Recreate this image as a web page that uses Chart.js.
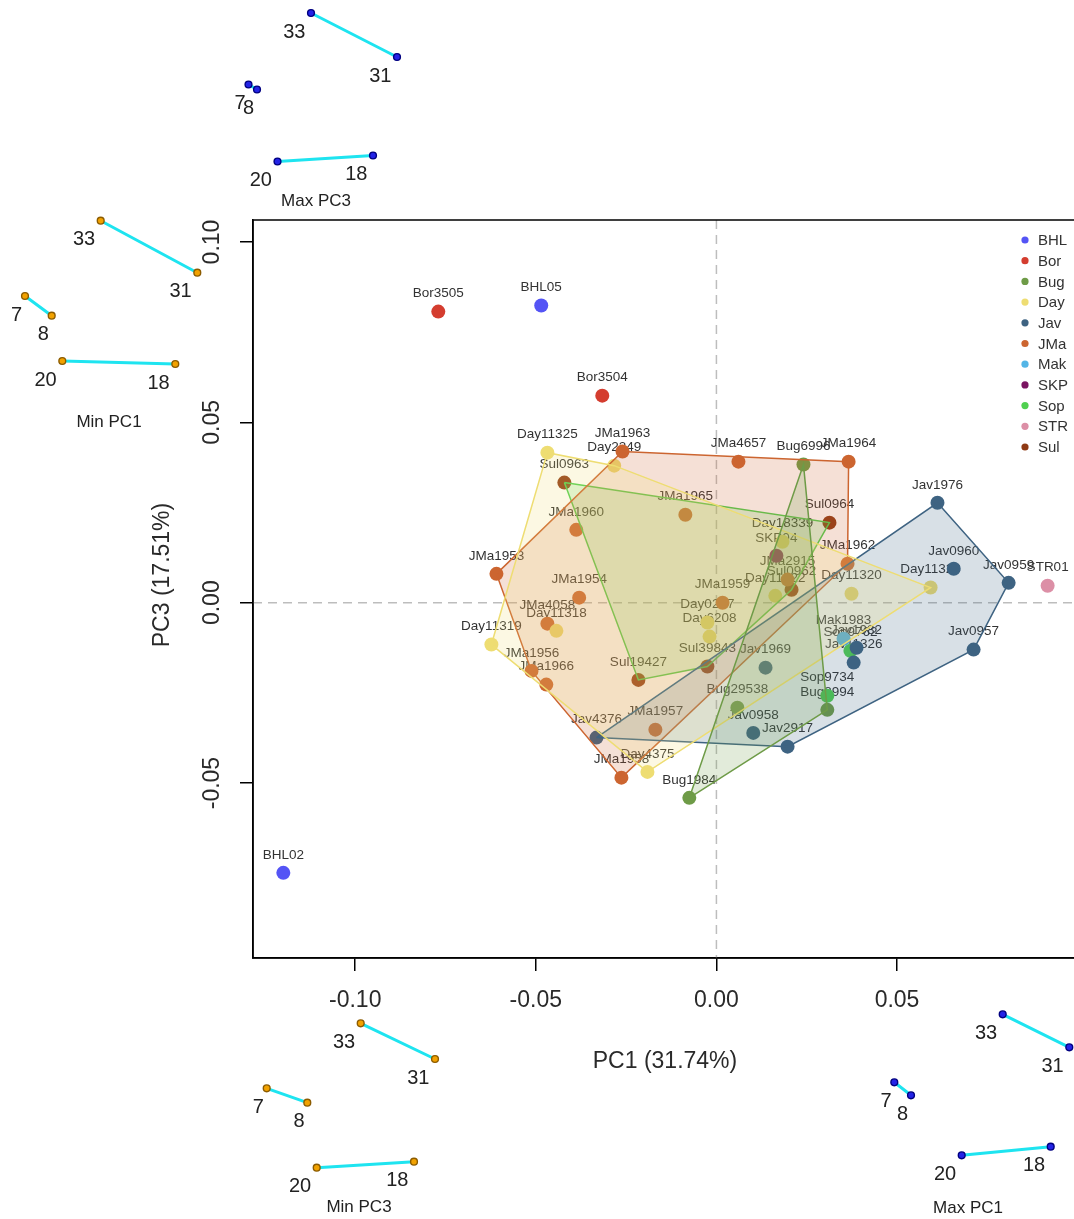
<!DOCTYPE html>
<html lang="en">
<head>
<meta charset="UTF-8">
<title>PCA PC1 vs PC3</title>
<script src="https://cdn.jsdelivr.net/npm/chart.js"></script>
<style>
  html, body { margin: 0; padding: 0; background: #fff; }
  #wrap { width: 1074px; height: 1219px; }
</style>
</head>
<body>
<div id="wrap"><canvas id="pca" width="1074" height="1219"></canvas></div>
<script>
// ---- data ----
const groups = ['BHL', 'Bor', 'Bug', 'Day', 'Jav', 'JMa', 'Mak', 'SKP', 'Sop', 'STR', 'Sul'];
const groupColors = ['#5454f5', '#d43d2f', '#6e9b47', '#eedd72', '#3e6382', '#cc6530',
                     '#53b5e6', '#7b1562', '#50d050', '#dc8fa6', '#8f3a14'];

const specimenNames = [
  'BHL05', 'BHL02',
  'Bor3505', 'Bor3504',
  'Bug6996', 'Bug29538', 'Bug8994', 'Bug1984',
  'Day11325', 'Day2349', 'Day18339', 'Day11322', 'Day11320', 'Day11323',
  'Day0207', 'Day6208', 'Day11318', 'Day11319', 'Day4375',
  'Jav1976', 'Jav0960', 'Jav0959', 'Jav0957', 'Jav1982', 'Jav11326',
  'Jav1969', 'Jav0958', 'Jav2917', 'Jav4376',
  'JMa1963', 'JMa4657', 'JMa1964', 'JMa1965', 'JMa1960', 'JMa1953', 'JMa1962', 'JMa2915',
  'JMa1954', 'JMa1959', 'JMa4058', 'JMa1956', 'JMa1966', 'JMa1957', 'JMa1958',
  'Mak1983',
  'SKP04',
  'Sop9762', 'Sop9734',
  'STR01',
  'Sul0963', 'Sul0964', 'Sul0962', 'Sul39843', 'Sul19427'
];
const specimenGroups = [
  'BHL', 'BHL',
  'Bor', 'Bor',
  'Bug', 'Bug', 'Bug', 'Bug',
  'Day', 'Day', 'Day', 'Day', 'Day', 'Day',
  'Day', 'Day', 'Day', 'Day', 'Day',
  'Jav', 'Jav', 'Jav', 'Jav', 'Jav', 'Jav',
  'Jav', 'Jav', 'Jav', 'Jav',
  'JMa', 'JMa', 'JMa', 'JMa', 'JMa', 'JMa', 'JMa', 'JMa',
  'JMa', 'JMa', 'JMa', 'JMa', 'JMa', 'JMa', 'JMa',
  'Mak',
  'SKP',
  'Sop', 'Sop',
  'STR',
  'Sul', 'Sul', 'Sul', 'Sul', 'Sul'
];
const pc1Values = [
  -0.0485, -0.1199,
  -0.0770, -0.0316,
  0.0241, 0.0058, 0.0307, -0.0075,
  -0.0468, -0.0283, 0.0183, 0.0163, 0.0374, 0.0593,
  -0.0025, -0.0019, -0.0443, -0.0623, -0.0191,
  0.0612, 0.0657, 0.0809, 0.0712, 0.0388, 0.0380,
  0.0136, 0.0102, 0.0197, -0.0332,
  -0.0260, 0.0061, 0.0366, -0.0086, -0.0388, -0.0609, 0.0363, 0.0197,
  -0.0380, 0.0017, -0.0468, -0.0512, -0.0471, -0.0169, -0.0263,
  0.0352,
  0.0166,
  0.0371, 0.0307,
  0.0917,
  -0.0421, 0.0313, 0.0208, -0.0025, -0.0216
];
const pc3Values = [
  0.0824, -0.0749,
  0.0807, 0.0574,
  0.0383, -0.0291, -0.0297, -0.0541,
  0.0416, 0.0380, 0.0169, 0.0019, 0.0025, 0.0042,
  -0.0055, -0.0094, -0.0078, -0.0116, -0.0469,
  0.0277, 0.0094, 0.0055, -0.0130, -0.0125, -0.0166,
  -0.0180, -0.0361, -0.0399, -0.0374,
  0.0419, 0.0391, 0.0391, 0.0244, 0.0202, 0.0080, 0.0108, 0.0064,
  0.0014, 0.0000, -0.0058, -0.0189, -0.0227, -0.0352, -0.0485,
  -0.0100,
  0.0130,
  -0.0133, -0.0258,
  0.0047,
  0.0333, 0.0222, 0.0036, -0.0177, -0.0214
];

// groups that get a convex hull, and the palette entry each hull is drawn with
const hullGroups = ['Bug', 'Day', 'Jav', 'JMa', 'Sul'];
const hullPalette = ['Bug', 'Day', 'Jav', 'JMa', 'Sop'];

const xTicks = [-0.10, -0.05, 0.00, 0.05];
const yTicks = [-0.05, 0.00, 0.05, 0.10];

// landmark configurations for the four extreme shapes (order: 33, 31, 7, 8, 20, 18)
const landmarkIds = ['33', '31', '7', '8', '20', '18'];
const landmarkLinks = [[0, 1], [2, 3], [4, 5]];
const maxPC3Shape = [[0, 0], [86, 44], [-62.5, 71.5], [-54, 76.5], [-33.5, 148.5], [62, 142.5]];
const minPC1Shape = [[0, 0], [96.6, 52], [-75.7, 75.3], [-49, 95], [-38.4, 140.3], [74.6, 143.3]];
const minPC3Shape = [[0, 0], [74.3, 35.7], [-94, 65], [-53.4, 79.4], [-44, 144.4], [53.3, 138.4]];
const maxPC1Shape = [[0, 0], [66.6, 33], [-108.4, 68], [-91.7, 81], [-41, 141], [48, 132.4]];

// ---- layout ----
const FONT = '"Liberation Sans", Arial, Helvetica, sans-serif';
const blueDot = { fill: '#2323e6', edge: '#000080' };
const orangeDot = { fill: '#f2a200', edge: '#8c5c00' };
const insets = [
  { title: 'Max PC3', shape: maxPC3Shape, at: [311, 13], titleAt: [316, 201], dot: blueDot },
  { title: 'Min PC1', shape: minPC1Shape, at: [100.7, 220.7], titleAt: [109, 422], dot: orangeDot },
  { title: 'Min PC3', shape: minPC3Shape, at: [360.7, 1023.3], titleAt: [359, 1207], dot: orangeDot },
  { title: 'Max PC1', shape: maxPC1Shape, at: [1002.7, 1014.3], titleAt: [968, 1208], dot: blueDot }
];

function rgba(hex, a) {
  const n = parseInt(hex.slice(1), 16);
  return `rgba(${(n >> 16) & 255},${(n >> 8) & 255},${n & 255},${a})`;
}

function convexHull(pts) {
  const p = pts.slice().sort((a, b) => a.x - b.x || a.y - b.y);
  const cross = (o, a, b) => (a.x - o.x) * (b.y - o.y) - (a.y - o.y) * (b.x - o.x);
  const lower = [], upper = [];
  for (const q of p) {
    while (lower.length >= 2 && cross(lower[lower.length - 2], lower[lower.length - 1], q) <= 0) lower.pop();
    lower.push(q);
  }
  for (let i = p.length - 1; i >= 0; i--) {
    const q = p[i];
    while (upper.length >= 2 && cross(upper[upper.length - 2], upper[upper.length - 1], q) <= 0) upper.pop();
    upper.push(q);
  }
  upper.pop(); lower.pop();
  return lower.concat(upper);
}

const pointSets = groups.map((g, gi) => {
  const idx = specimenNames.map((_, i) => i).filter(i => specimenGroups[i] === g);
  return {
    kind: 'points',
    label: g,
    names: idx.map(i => specimenNames[i]),
    data: idx.map(i => ({ x: pc1Values[i], y: pc3Values[i] })),
    backgroundColor: groupColors[gi],
    borderWidth: 0,
    pointRadius: 7,
    order: 2
  };
});

const hullSets = hullGroups.map((g, k) => {
  const h = convexHull(pointSets[groups.indexOf(g)].data);
  const c = groupColors[groups.indexOf(hullPalette[k])];
  return {
    kind: 'hull',
    label: g + ' hull',
    data: h.concat([h[0]]),
    showLine: true,
    borderColor: c,
    borderWidth: 1.5,
    pointRadius: 0,
    fill: false,
    fillColor: rgba(c, 0.2),
    order: 1
  };
});

// ---- plugins ----
const decorations = {
  id: 'decorations',
  beforeDatasetsDraw(chart) {
    const { ctx, chartArea: a, scales: { x, y } } = chart;
    ctx.save();
    // dashed zero lines
    ctx.strokeStyle = '#bdbdbd';
    ctx.lineWidth = 1.5;
    ctx.setLineDash([9, 6]);
    ctx.beginPath();
    ctx.moveTo(x.getPixelForValue(0), a.top);
    ctx.lineTo(x.getPixelForValue(0), a.bottom);
    ctx.moveTo(a.left, y.getPixelForValue(0));
    ctx.lineTo(a.right, y.getPixelForValue(0));
    ctx.stroke();
    ctx.setLineDash([]);
    // specimen labels
    ctx.font = '13.5px ' + FONT;
    ctx.fillStyle = '#333';
    ctx.textAlign = 'center';
    ctx.textBaseline = 'middle';
    chart.data.datasets.forEach((ds, i) => {
      if (ds.kind !== 'points') return;
      chart.getDatasetMeta(i).data.forEach((pt, j) => {
        ctx.fillText(ds.names[j], pt.x, pt.y - 18);
      });
    });
    ctx.restore();
  },
  beforeDatasetDraw(chart, args) {
    const ds = chart.data.datasets[args.index];
    if (ds.kind !== 'hull') return;
    const ctx = chart.ctx;
    const pts = args.meta.data;
    ctx.save();
    ctx.beginPath();
    pts.forEach((p, i) => (i ? ctx.lineTo(p.x, p.y) : ctx.moveTo(p.x, p.y)));
    ctx.closePath();
    ctx.fillStyle = ds.fillColor;
    ctx.fill();
    ctx.restore();
  },
  afterDraw(chart) {
    const { ctx, chartArea: a, scales: { y } } = chart;
    ctx.save();
    // plot frame
    ctx.strokeStyle = '#000';
    ctx.lineWidth = 1.5;
    ctx.strokeRect(a.left, a.top, a.right - a.left + 4, a.bottom - a.top);

    // y tick labels and title, rotated
    ctx.fillStyle = '#2a2a2a';
    ctx.textAlign = 'center';
    ctx.textBaseline = 'middle';
    ctx.font = '23px ' + FONT;
    yTicks.forEach(v => {
      ctx.save();
      ctx.translate(213, y.getPixelForValue(v));
      ctx.rotate(-Math.PI / 2);
      ctx.fillText(v.toFixed(2), 0, 0);
      ctx.restore();
    });
    ctx.save();
    ctx.translate(163, 575);
    ctx.rotate(-Math.PI / 2);
    ctx.fillText('PC3 (17.51%)', 0, 0);
    ctx.restore();
    ctx.fillText('PC1 (31.74%)', 665, 1062);

    // legend
    ctx.font = '15px ' + FONT;
    ctx.textAlign = 'left';
    groups.forEach((g, i) => {
      const ly = 240 + i * 20.7;
      ctx.fillStyle = groupColors[i];
      ctx.beginPath();
      ctx.arc(1025, ly, 3.6, 0, Math.PI * 2);
      ctx.fill();
      ctx.fillStyle = '#333';
      ctx.fillText(g, 1038, ly + 1);
    });

    // landmark insets
    insets.forEach(ins => {
      const pts = ins.shape.map(([dx, dy]) => [ins.at[0] + dx, ins.at[1] + dy]);
      ctx.strokeStyle = '#1ee4f0';
      ctx.lineWidth = 3;
      ctx.lineCap = 'round';
      landmarkLinks.forEach(([i, j]) => {
        ctx.beginPath();
        ctx.moveTo(pts[i][0], pts[i][1]);
        ctx.lineTo(pts[j][0], pts[j][1]);
        ctx.stroke();
      });
      pts.forEach(p => {
        ctx.beginPath();
        ctx.arc(p[0], p[1], 3.4, 0, Math.PI * 2);
        ctx.fillStyle = ins.dot.fill;
        ctx.fill();
        ctx.lineWidth = 1.4;
        ctx.strokeStyle = ins.dot.edge;
        ctx.stroke();
      });
      ctx.fillStyle = '#222';
      ctx.font = '20px ' + FONT;
      ctx.textAlign = 'center';
      pts.forEach((p, i) => {
        const w = ctx.measureText(landmarkIds[i]).width;
        ctx.fillText(landmarkIds[i], p[0] - 0.75 * w, p[1] + 19);
      });
      ctx.font = '17px ' + FONT;
      ctx.fillText(ins.title, ins.titleAt[0], ins.titleAt[1]);
    });
    ctx.restore();
  }
};

// ---- chart ----
new Chart(document.getElementById('pca'), {
  type: 'scatter',
  data: { datasets: pointSets.concat(hullSets) },
  options: {
    responsive: false,
    animation: false,
    devicePixelRatio: 1,
    events: [],
    layout: { autoPadding: false, padding: { top: 220, right: 0, left: 0, bottom: 0 } },
    plugins: { legend: { display: false }, tooltip: { enabled: false } },
    scales: {
      x: {
        type: 'linear',
        min: -0.1283,
        max: 0.0990,
        afterBuildTicks: s => { s.ticks = xTicks.map(v => ({ value: v })); },
        afterFit: s => { s.height = 261; s.paddingLeft = 0; s.paddingRight = 0; },
        grid: { drawOnChartArea: false, drawTicks: true, tickLength: 13, color: '#000', lineWidth: 1.5 },
        border: { display: true, color: '#000', width: 1.5 },
        ticks: {
          padding: 16,
          color: '#2a2a2a',
          font: { family: FONT, size: 23 },
          maxRotation: 0,
          callback: v => v.toFixed(2)
        }
      },
      y: {
        type: 'linear',
        min: -0.0985,
        max: 0.1061,
        afterBuildTicks: s => { s.ticks = yTicks.map(v => ({ value: v })); },
        afterFit: s => { s.width = 253; s.paddingTop = 0; s.paddingBottom = 0; },
        grid: { drawOnChartArea: false, drawTicks: true, tickLength: 13, color: '#000', lineWidth: 1.5 },
        border: { display: true, color: '#000', width: 1.5 },
        ticks: { display: false }
      }
    }
  },
  plugins: [decorations]
});
</script>
</body>
</html>
